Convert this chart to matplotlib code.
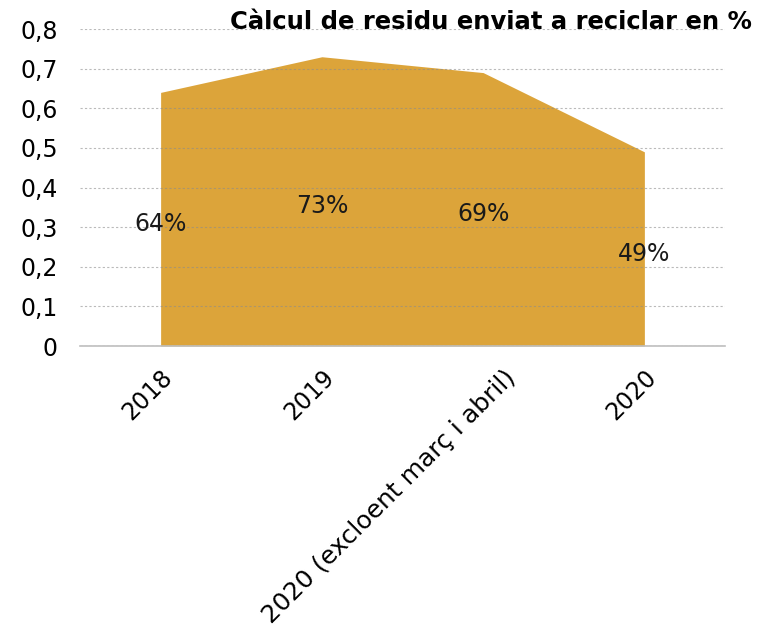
import matplotlib.pyplot as plt
import matplotlib.transforms as mtransforms
from matplotlib.ticker import FuncFormatter

# dades
categories = ["2018", "2019", "2020 (excloent març i abril)", "2020"]
values = [0.64, 0.73, 0.69, 0.49]
labels = ["64%", "73%", "69%", "49%"]
yticks = [0, 0.1, 0.2, 0.3, 0.4, 0.5, 0.6, 0.7, 0.8]

plt.rcParams['font.family'] = ['DejaVu Sans']

fig = plt.figure(figsize=(7.58, 6.29), dpi=100)
ax = fig.add_axes([80 / 758, 1 - 346 / 629, 645 / 758, 317 / 629])

x = list(range(len(categories)))
ax.fill_between(x, 0, values, color='#dca43a', linewidth=0, zorder=1)

# etiquetes de valor al mig de l'area
for xi, v, lab in zip(x, values, labels):
    ax.text(xi, v / 2 - 0.012, lab, ha='center', va='center', fontsize=17, color='#1a1a1a', zorder=3)

ax.set_xlim(-0.5, len(categories) - 0.5)
ax.set_ylim(0, 0.8)
ax.set_yticks(yticks)
ax.yaxis.set_major_formatter(FuncFormatter(lambda v, p: "0" if v == 0 else ("%.1f" % v).replace(".", ",")))
ax.set_xticks(x)
ax.set_xticklabels(categories, rotation=45, ha='right', rotation_mode='anchor', fontsize=17)
ax.tick_params(axis='y', labelsize=17, length=0, pad=16)
ax.tick_params(axis='x', length=0, pad=14)

# l'etiqueta llarga una mica mes gran i desplacada
long_lab = ax.get_xticklabels()[2]
long_lab.set_fontsize(18)
long_lab.set_transform(long_lab.get_transform() + mtransforms.ScaledTranslation(0.2, 0, fig.dpi_scale_trans))

ax.grid(axis='y', color='#8c8c8c', linestyle=(0, (2, 2)), linewidth=0.8, alpha=0.6, zorder=2)
ax.set_axisbelow(False)
for s in ['top', 'right', 'left']:
    ax.spines[s].set_visible(False)
ax.spines['bottom'].set_color('#bfbfbf')
ax.spines['bottom'].set_linewidth(1.2)

fig.text(752 / 758, 1 - 22 / 629, "Càlcul de residu enviat a reciclar en %", ha='right', va='center',
         fontsize=17.5, fontweight='bold', color='black')

fig.savefig("out.png", dpi=100)
